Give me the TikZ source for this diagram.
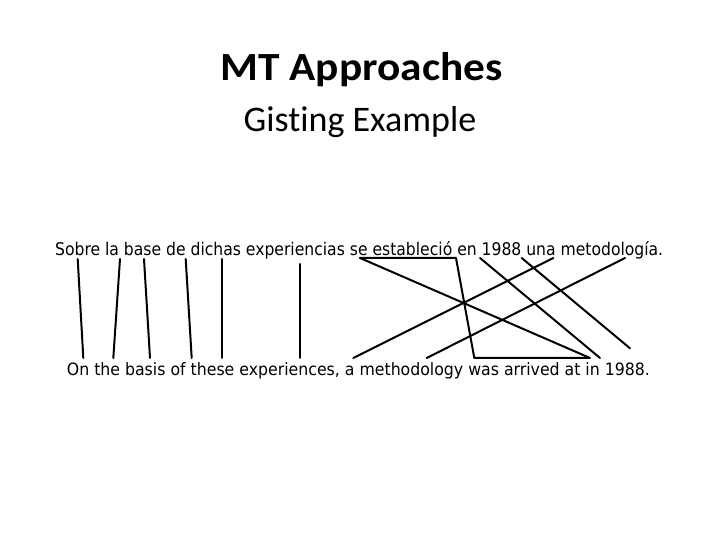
\documentclass[tikz,border=0pt]{standalone}
\usepackage{fontspec}
\setmainfont{Carlito}[Ligatures={NoCommon}]
\newfontfamily\sentfont{DejaVu Sans Condensed}
\begin{document}
\begin{tikzpicture}[x=1pt,y=1pt,
  link/.style={line width=2pt,line cap=round,line join=round},
  sent/.style={inner sep=0pt,anchor=base west}]
\useasboundingbox (0,0) rectangle (720,540);
\node[anchor=base,inner sep=0pt] (title) at (361.5,459) {\resizebox{282pt}{\height}{\fontsize{40}{48}\selectfont\bfseries MT Approaches}};
\node[anchor=base,inner sep=0pt] (sub) at (360,408.3) {\fontsize{36}{42}\selectfont Gisting Example};
\node[sent] (src) at (55,284.7) {\resizebox{608pt}{\height}{\fontsize{17.5}{20}\sentfont Sobre la base de dichas experiencias se estableció en 1988 una metodología.}};
\node[sent] (tgt) at (66.7,164.3) {\resizebox{583pt}{\height}{\fontsize{17}{20}\sentfont On the basis of these experiences, a methodology was arrived at in 1988.}};
% endpoints
\coordinate (s1) at (77.7,281);  \coordinate (t1) at (83.3,182);
\coordinate (s2) at (120,281);   \coordinate (t2) at (113.3,182);
\coordinate (s3) at (144,281);   \coordinate (t3) at (150,182);
\coordinate (s4) at (185.7,281); \coordinate (t4) at (191.7,182);
\coordinate (s5) at (221.7,281); \coordinate (t5) at (221.7,182);
\coordinate (s6) at (300,276);   \coordinate (t6) at (300,182);
\coordinate (sa) at (360,282);   \coordinate (sb) at (456,282);
\coordinate (ta) at (474.3,182); \coordinate (tb) at (588.3,182);
\coordinate (tc) at (590,182);
\coordinate (s8) at (480,282);   \coordinate (t8) at (600,182);
\coordinate (s9) at (521.7,282); \coordinate (t9) at (630,191.7);
\coordinate (s10) at (553.3,282); \coordinate (t10) at (353.3,182);
\coordinate (s11) at (625,282);  \coordinate (t11) at (426.7,182);
\draw[link] (s1) -- (t1);
\draw[link] (s2) -- (t2);
\draw[link] (s3) -- (t3);
\draw[link] (s4) -- (t4);
\draw[link] (s5) -- (t5);
\draw[link] (s6) -- (t6);
\draw[link] (sa) -- (sb) -- (ta) -- (tb);
\draw[link] (sa) -- (tc);
\draw[link] (s8) -- (t8);
\draw[link] (s9) -- (t9);
\draw[link] (s10) -- (t10);
\draw[link] (s11) -- (t11);
\end{tikzpicture}
\end{document}
